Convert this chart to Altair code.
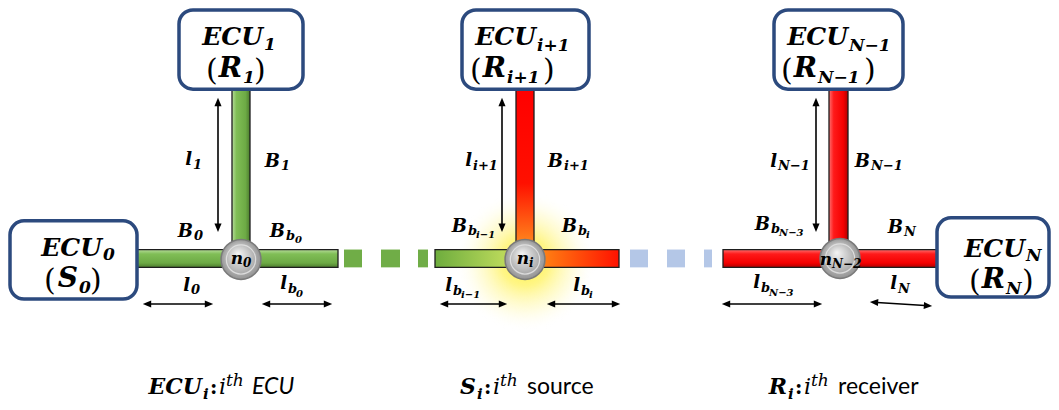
import math
import altair as alt
import pandas as pd

# ---------------- data (positions, in pixels) ----------------
box_x1 = [10, 179, 462, 774, 937]
box_x2 = [137, 303, 589, 903, 1049]
box_y1 = [221, 8, 8, 8, 218]
box_y2 = [300, 88, 88, 88, 298]

vbar_x1 = [232, 516, 829]
vbar_x2 = [250, 534, 848]
vbar_y1 = [88, 88, 88]
vbar_y2 = [246, 246, 246]
vbar_kind = ["green", "mid", "red"]

hbar_x1 = [137, 435, 723]
hbar_x2 = [338, 619, 937]
hbar_y1 = [250, 250, 250]
hbar_y2 = [268, 268, 268]
hbar_kind = ["green", "mid", "red"]

gdash_x1 = [344, 381, 418]
gdash_x2 = [362, 400, 428]
bdash_x1 = [630, 667, 704]
bdash_x2 = [648, 685, 712]
dash_y1, dash_y2 = 250, 268

node_x = [241, 525, 840]
node_y = [260, 260, 259]
glow_x = [525]
glow_y = [262]

varrow_x = [218, 502, 816]
varrow_y1 = [97, 97, 97]
varrow_y2 = [232, 232, 232]
harrow_x1 = [143, 262, 440, 547, 722, 870]
harrow_x2 = [213, 332, 507, 620, 822, 932]
harrow_y1 = [305, 305, 305, 305, 305, 303]
harrow_y2 = [305, 305, 305, 305, 305, 307]

# text pieces: text, x, baseline y, font size, align, font kind
R, L = "right", "left"
texts = [
    # ECU0 box
    ("ECU", 102, 257, 25, R, "bi"), ("0", 103, 261, 17, L, "bi"),
    ("(", 44, 291, 30, L, "r"), ("S", 78, 288, 28, R, "bi"), ("0", 79, 294, 17, L, "bi"), (")", 90, 291, 30, L, "r"),
    # ECU1 box
    ("ECU", 263, 43, 25, R, "bi"), ("1", 264, 48, 17, L, "bi"),
    ("(", 206, 79, 30, L, "r"), ("R", 242, 76, 28, R, "bi"), ("1", 243, 82, 17, L, "bi"), (")", 254, 79, 30, L, "r"),
    # ECU i+1 box
    ("ECU", 536, 43, 25, R, "bi"), ("i+1", 537, 49, 17, L, "bi"),
    ("(", 470, 79, 30, L, "r"), ("R", 506, 76, 28, R, "bi"), ("i+1", 507, 82, 17, L, "bi"), (")", 543, 79, 30, L, "r"),
    # ECU N-1 box
    ("ECU", 848, 43, 25, R, "bi"), ("N−1", 849, 49, 17, L, "bi"),
    ("(", 781, 79, 30, L, "r"), ("R", 817, 76, 28, R, "bi"), ("N−1", 818, 82, 17, L, "bi"), (")", 864, 79, 30, L, "r"),
    # ECU N box
    ("ECU", 1025, 258, 25, R, "bi"), ("N", 1026, 262, 17, L, "bi"),
    ("(", 969, 292, 30, L, "r"), ("R", 1005, 289, 28, R, "bi"), ("N", 1006, 295, 17, L, "bi"), (")", 1022, 292, 30, L, "r"),
    # left T
    ("l", 192, 165, 18, R, "bi"), ("1", 193, 169, 13, L, "bi"),
    ("B", 280, 167, 18, R, "bi"), ("1", 281, 170, 13, L, "bi"),
    ("B", 193, 237, 18, R, "bi"), ("0", 194, 240, 13, L, "bi"),
    ("B", 285, 237, 18, R, "bi"), ("b", 286, 240, 13, L, "bi"), ("0", 295, 243, 10, L, "bi"),
    ("n", 243, 265, 17, R, "bi"), ("0", 243, 268, 12, L, "bi"),
    ("l", 190, 292, 18, R, "bi"), ("0", 191, 295, 13, L, "bi"),
    ("l", 287, 290, 18, R, "bi"), ("b", 288, 294, 13, L, "bi"), ("0", 296, 298, 10, L, "bi"),
    # middle T
    ("l", 472, 166, 18, R, "bi"), ("i+1", 473, 170, 13, L, "bi"),
    ("B", 563, 167, 18, R, "bi"), ("i+1", 564, 170, 13, L, "bi"),
    ("B", 467, 232, 18, R, "bi"), ("b", 468, 235, 13, L, "bi"), ("i−1", 476, 238, 10, L, "bi"),
    ("B", 577, 232, 18, R, "bi"), ("b", 578, 235, 13, L, "bi"), ("i", 586, 238, 10, L, "bi"),
    ("n", 529, 265, 17, R, "bi"), ("i", 529, 268, 12, L, "bi"),
    ("l", 452, 292, 18, R, "bi"), ("b", 453, 296, 13, L, "bi"), ("i−1", 461, 299, 10, L, "bi"),
    ("l", 580, 292, 18, R, "bi"), ("b", 581, 296, 13, L, "bi"), ("i", 589, 299, 10, L, "bi"),
    # right T
    ("l", 777, 167, 18, R, "bi"), ("N−1", 778, 170, 13, L, "bi"),
    ("B", 870, 167, 18, R, "bi"), ("N−1", 871, 170, 13, L, "bi"),
    ("B", 770, 230, 18, R, "bi"), ("b", 771, 233, 13, L, "bi"), ("N−3", 779, 236, 10, L, "bi"),
    ("B", 903, 233, 18, R, "bi"), ("N", 904, 236, 13, L, "bi"),
    ("n", 832, 266, 17, R, "bi"), ("N−2", 832, 269, 12, L, "bi"),
    ("l", 760, 289, 18, R, "bi"), ("b", 761, 293, 13, L, "bi"), ("N−3", 769, 297, 10, L, "bi"),
    ("l", 897, 290, 18, R, "bi"), ("N", 898, 294, 13, L, "bi"),
    # legend
    ("ECU", 202, 396, 22, R, "bi"), ("i", 203, 401, 15, L, "bi"), (":", 210, 396, 20, L, "b"),
    ("i", 219, 396, 22, L, "i"), ("th", 226, 388, 17, L, "i"), ("ECU", 252, 396, 23, L, "si"),
    ("S", 476, 396, 22, R, "bi"), ("i", 477, 401, 15, L, "bi"), (":", 484, 396, 20, L, "b"),
    ("i", 493, 396, 22, L, "i"), ("th", 500, 388, 17, L, "i"), ("source", 527, 396, 23, L, "s"),
    ("R", 787, 396, 22, R, "bi"), ("i", 788, 401, 15, L, "bi"), (":", 795, 396, 20, L, "b"),
    ("i", 804, 396, 22, L, "i"), ("th", 811, 388, 17, L, "i"), ("receiver", 838, 396, 23, L, "s"),
]

# ---------------- helpers ----------------
XS = alt.Scale(domain=[8, 1051], nice=False, zero=False)
YS = alt.Scale(domain=[8, 402], nice=False, zero=False, reverse=True)


def X(f):
    return alt.X(f, type="quantitative", scale=XS, axis=None)


def Y(f):
    return alt.Y(f, type="quantitative", scale=YS, axis=None)


def lin(stops, x1=0, y1=0, x2=0, y2=1):
    return alt.LinearGradient(gradient="linear",
                              stops=[alt.GradientStop(color=c, offset=o) for o, c in stops],
                              x1=x1, y1=y1, x2=x2, y2=y2)


def rad(stops, x1=0.5, y1=0.5, r1=0, x2=0.5, y2=0.5, r2=0.5):
    return alt.RadialGradient(gradient="radial",
                              stops=[alt.GradientStop(color=c, offset=o) for o, c in stops],
                              x1=x1, y1=y1, r1=r1, x2=x2, y2=y2, r2=r2)


def rects(df, **mark):
    return alt.Chart(df).mark_rect(**mark).encode(
        x=X("x1"), x2=alt.X2("x2"), y=Y("y1"), y2=alt.Y2("y2"))


layers = []

# glow around the middle node
glow = pd.DataFrame({"x": glow_x, "y": glow_y})
layers.append(alt.Chart(glow).mark_point(
    shape="circle", filled=True, size=math.pi * 80 ** 2, opacity=1, strokeWidth=0,
    fill=rad([(0, "rgba(255,240,40,0.95)"), (0.35, "rgba(255,242,90,0.72)"),
              (0.7, "rgba(255,248,170,0.35)"), (1, "rgba(255,255,255,0)")])
).encode(x=X("x"), y=Y("y")))

vb = pd.DataFrame({"x1": vbar_x1, "x2": vbar_x2, "y1": vbar_y1, "y2": vbar_y2, "k": vbar_kind})
hb = pd.DataFrame({"x1": hbar_x1, "x2": hbar_x2, "y1": hbar_y1, "y2": hbar_y2, "k": hbar_kind})

green_stops = [(0, "#B7DC9C"), (0.25, "#80BE56"), (0.75, "#6DAA45"), (1, "#4C7C2E")]
red_stops = [(0, "#FF7070"), (0.25, "#FF1A1A"), (0.75, "#F40000"), (1, "#B00000")]
edge = dict(stroke="#1e1e1e", strokeWidth=1.3)

layers.append(rects(vb[vb.k == "green"], fill=lin(green_stops, 0, 0, 1, 0), **edge))
layers.append(rects(vb[vb.k == "red"], fill=lin(red_stops, 0, 0, 1, 0), **edge))
layers.append(rects(vb[vb.k == "mid"], fill=lin([(0, "#FF0000"), (0.6, "#FF1000"), (1, "#FF8A1E")], 0, 0, 0, 1), **edge))
layers.append(rects(hb[hb.k == "green"], fill=lin(green_stops, 0, 0, 0, 1), **edge))
layers.append(rects(hb[hb.k == "red"], fill=lin(red_stops, 0, 0, 0, 1), **edge))
layers.append(rects(hb[hb.k == "mid"], fill=lin(
    [(0, "#6EAD3E"), (0.37, "#B9D85A"), (0.61, "#FF7A12"), (1, "#FF1200")], 0, 0, 1, 0), **edge))

gd = pd.DataFrame({"x1": gdash_x1, "x2": gdash_x2, "y1": [dash_y1] * 3, "y2": [dash_y2] * 3})
bd = pd.DataFrame({"x1": bdash_x1, "x2": bdash_x2, "y1": [dash_y1] * 3, "y2": [dash_y2] * 3})
layers.append(rects(gd, fill="#70AD47"))
layers.append(rects(bd, fill="#B4C7E7"))

# ECU boxes
bx = pd.DataFrame({"x1": box_x1, "x2": box_x2, "y1": box_y1, "y2": box_y2})
layers.append(rects(bx, fill="white", stroke="#2C4A7E", strokeWidth=3.5, cornerRadius=14))

# nodes
nd = pd.DataFrame({"x": node_x, "y": node_y})
layers.append(alt.Chart(nd).mark_point(
    shape="circle", filled=True, size=math.pi * 22.5 ** 2, opacity=1,
    fill=rad([(0, "#F4F4F4"), (0.55, "#BEBEBE"), (1, "#8A8A8A")], 0.42, 0.35, 0, 0.5, 0.5, 0.55),
    stroke="#7A7A7A", strokeWidth=1.5
).encode(x=X("x"), y=Y("y")))
layers.append(alt.Chart(nd).mark_point(
    shape="circle", filled=False, size=math.pi * 16.5 ** 2, opacity=0.9,
    stroke="#E2E2E2", strokeWidth=1.2
).encode(x=X("x"), y=Y("y")))

# arrows
ax1 = varrow_x + harrow_x1
ax2 = varrow_x + harrow_x2
ay1 = varrow_y1 + harrow_y1
ay2 = varrow_y2 + harrow_y2
HEAD = 4.0
shafts, heads = [], []
for x1, y1, x2, y2 in zip(ax1, ay1, ax2, ay2):
    d = math.hypot(x2 - x1, y2 - y1)
    ux, uy = (x2 - x1) / d, (y2 - y1) / d
    shafts.append({"x1": x1 + ux * 3, "y1": y1 + uy * 3, "x2": x2 - ux * 3, "y2": y2 - uy * 3})
    ang_end = math.degrees(math.atan2(ux, -uy)) % 360
    ang_start = (ang_end + 180) % 360
    heads.append({"x": x2 - ux * HEAD, "y": y2 - uy * HEAD, "a": ang_end})
    heads.append({"x": x1 + ux * HEAD, "y": y1 + uy * HEAD, "a": ang_start})

layers.append(alt.Chart(pd.DataFrame(shafts)).mark_rule(color="black", strokeWidth=1.6).encode(
    x=X("x1"), x2=alt.X2("x2"), y=Y("y1"), y2=alt.Y2("y2")))
layers.append(alt.Chart(pd.DataFrame(heads)).mark_point(
    shape="M0,-1L0.85,1L-0.85,1Z", filled=True, size=70, opacity=1, color="black", strokeWidth=0
).encode(x=X("x"), y=Y("y"), angle=alt.Angle("a:Q", scale=None)))

# text
fonts = {
    "bi": ("DejaVu Serif", "bold", "italic"),
    "b": ("DejaVu Serif", "bold", "normal"),
    "r": ("DejaVu Serif", "normal", "normal"),
    "i": ("DejaVu Serif", "normal", "italic"),
    "s": ("Lato", "normal", "normal"),
    "si": ("Lato", "normal", "italic"),
}
tdf = pd.DataFrame(texts, columns=["t", "x", "y", "s", "align", "font"])
for (al, fk), sub in tdf.groupby(["align", "font"]):
    fam, wt, st = fonts[fk]
    layers.append(alt.Chart(sub).mark_text(
        align=al, baseline="alphabetic", font=fam, fontWeight=wt, fontStyle=st, color="black"
    ).encode(x=X("x"), y=Y("y"), text="t:N", size=alt.Size("s:Q", scale=None)))

chart = alt.layer(*layers).properties(
    width=1043, height=394, padding=0, background="white",
    autosize=alt.AutoSizeParams(type="fit", contains="padding"),
).configure_view(stroke=None)

chart.save("out.html", embed_options={"renderer": "svg", "actions": False})
